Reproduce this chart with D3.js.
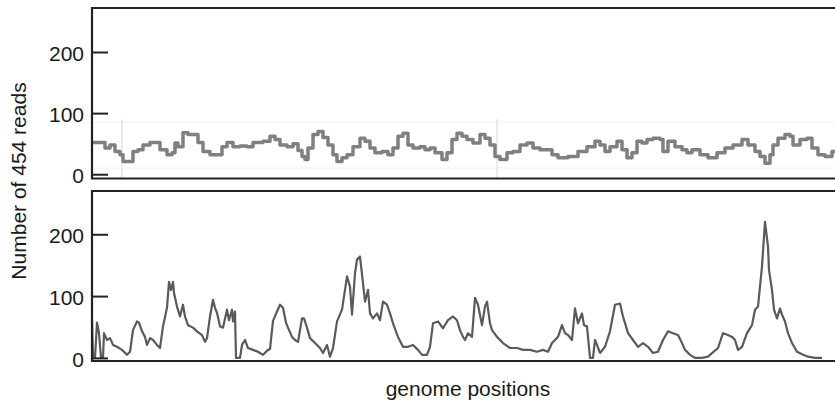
<!DOCTYPE html>
<html>
<head>
<meta charset="utf-8">
<script src="https://cdn.jsdelivr.net/npm/d3@7"></script>
<style>
  body { margin: 0; background: #fff; }
  svg { display: block; font-family: "Liberation Sans", Arial, Helvetica, sans-serif; }
</style>
</head>
<body>
<div id="chart"></div>
<script>
// Coverage of 454 reads along the genome (two libraries)
const yTicks = [0, 100, 200];
const yLabel = "Number of 454 reads";
const xLabel = "genome positions";

// top panel: step coverage
const topPositions = [0, 8, 13, 18, 23, 28, 31, 36, 41, 46, 51, 58, 63, 68, 75, 80, 83, 86, 91, 96, 101, 106, 111, 118, 125, 130, 135, 141, 148, 155, 161, 171, 178, 183, 188, 195, 201, 206, 210, 213, 216, 221, 226, 231, 236, 241, 245, 250, 255, 261, 268, 273, 278, 283, 290, 296, 301, 306, 311, 316, 321, 328, 333, 338, 343, 350, 355, 360, 365, 370, 375, 381, 388, 393, 398, 403, 408, 415, 421, 428, 435, 441, 448, 453, 460, 466, 476, 486, 495, 503, 508, 513, 518, 525, 530, 535, 540, 545, 550, 555, 561, 568, 571, 576, 583, 590, 595, 600, 608, 616, 625, 633, 641, 650, 656, 663, 668, 673, 678, 681, 686, 693, 698, 701, 708, 715, 720, 726, 733, 740, 743];
const topReads = [52, 52, 43, 48, 37, 32, 21, 21, 37, 40, 48, 52, 52, 40, 32, 35, 51, 45, 68, 65, 65, 52, 37, 32, 32, 45, 52, 45, 46, 45, 52, 54, 62, 57, 48, 45, 50, 39, 29, 24, 43, 65, 70, 60, 48, 32, 21, 27, 32, 45, 59, 54, 43, 35, 37, 32, 43, 62, 67, 48, 43, 45, 40, 43, 35, 24, 35, 57, 67, 62, 57, 51, 65, 59, 48, 29, 24, 35, 37, 48, 51, 43, 40, 40, 32, 27, 29, 37, 45, 54, 48, 37, 45, 54, 40, 27, 35, 54, 51, 57, 59, 57, 37, 54, 45, 40, 35, 40, 32, 27, 35, 43, 48, 57, 48, 37, 29, 18, 32, 48, 59, 65, 62, 48, 57, 59, 43, 32, 29, 37, 37];
// faint vertical marks seen in the top panel
const topMarks = [30, 405];

// bottom panel: coverage
const bottomPositions = [0, 1, 3, 5, 7, 9, 11, 12, 15, 18, 21, 25, 30, 35, 38, 41, 45, 47, 50, 53, 55, 58, 61, 65, 68, 71, 75, 77, 79, 81, 82, 85, 88, 91, 93, 96, 101, 105, 110, 113, 115, 118, 121, 123, 125, 128, 131, 135, 137, 140, 141, 143, 144, 145, 148, 150, 153, 156, 161, 166, 171, 176, 178, 181, 185, 188, 191, 194, 196, 200, 203, 206, 210, 212, 215, 218, 223, 228, 231, 235, 238, 241, 245, 250, 253, 255, 258, 260, 263, 265, 268, 271, 273, 276, 278, 281, 285, 288, 291, 295, 298, 301, 306, 311, 316, 321, 326, 330, 335, 338, 341, 346, 351, 356, 361, 365, 368, 371, 373, 376, 380, 383, 386, 390, 393, 395, 398, 400, 405, 411, 418, 425, 431, 438, 445, 451, 456, 460, 466, 470, 473, 476, 480, 483, 486, 490, 492, 495, 498, 501, 503, 505, 508, 513, 518, 523, 528, 531, 534, 536, 541, 546, 551, 556, 561, 566, 571, 576, 581, 586, 590, 593, 598, 603, 610, 616, 626, 631, 636, 640, 643, 646, 650, 655, 660, 663, 666, 670, 673, 676, 677, 680, 682, 685, 688, 690, 693, 696, 700, 705, 710, 716, 723, 730, 735, 743];
const bottomReads = [61, 0, 0, 57, 40, 0, 0, 40, 29, 32, 21, 18, 13, 5, 10, 45, 59, 57, 43, 34, 21, 32, 29, 21, 16, 51, 81, 123, 110, 123, 105, 83, 67, 86, 67, 53, 49, 43, 37, 26, 32, 67, 94, 81, 73, 51, 49, 78, 61, 78, 59, 75, 0, 0, 0, 21, 29, 16, 13, 10, 5, 13, 14, 60, 75, 86, 81, 57, 49, 34, 29, 26, 64, 64, 49, 32, 24, 16, 8, 21, 2, 16, 59, 78, 110, 132, 115, 70, 137, 159, 164, 121, 91, 110, 72, 64, 72, 61, 91, 86, 72, 56, 34, 18, 18, 21, 13, 5, 5, 18, 56, 59, 48, 61, 67, 61, 45, 34, 29, 40, 34, 97, 86, 53, 83, 91, 56, 45, 34, 24, 16, 16, 13, 13, 10, 13, 10, 24, 34, 53, 40, 37, 29, 80, 56, 72, 53, 51, 0, 0, 29, 21, 8, 18, 43, 86, 88, 67, 51, 40, 29, 18, 24, 18, 8, 10, 29, 43, 40, 37, 24, 13, 5, 0, 0, 2, 16, 40, 37, 34, 29, 13, 18, 40, 53, 78, 83, 148, 220, 180, 142, 110, 78, 64, 80, 70, 59, 40, 24, 10, 6, 2, 0, 0];

const width = 835, height = 402;
const margin = {left: 92, right: 0};
const genomeLength = 743;

let svg = d3.select("#chart")
    .append("svg")
    .attr("width", width)
    .attr("height", height);

let x = d3.scaleLinear()
    .domain([0, genomeLength])
    .range([margin.left, width - margin.right]);

const panels = [
    {top: 8, bottom: 178.5, domain: [-7, 272], pos: topPositions, reads: topReads, step: true},
    {top: 191, bottom: 361, domain: [-5, 270], pos: bottomPositions, reads: bottomReads, step: false}
];

panels.forEach(function(p) {
    let y = d3.scaleLinear().domain(p.domain).range([p.bottom, p.top]);
    let g = svg.append("g");

    if (p.step) {
        // faint background guides
        [85, 10].forEach(function(v) {
            g.append("line")
                .attr("x1", x(0)).attr("x2", x(genomeLength))
                .attr("y1", y(v)).attr("y2", y(v))
                .attr("stroke", "#f3f3f3")
                .attr("stroke-width", 1.2);
        });
        g.selectAll(".mark")
            .data(topMarks)
            .enter()
            .append("line")
            .attr("x1", function(d) { return x(d); })
            .attr("x2", function(d) { return x(d); })
            .attr("y1", y(90))
            .attr("y2", p.bottom)
            .attr("stroke", "#ebebeb")
            .attr("stroke-width", 2);
    }

    let line = d3.line()
        .x(function(d) { return x(d[0]); })
        .y(function(d) { return y(d[1]); })
        .curve(p.step ? d3.curveStepAfter : d3.curveLinear);

    g.append("path")
        .datum(d3.zip(p.pos, p.reads))
        .attr("d", line)
        .attr("fill", "none")
        .attr("stroke", p.step ? "#808080" : "#5a5a5a")
        .attr("stroke-width", p.step ? 3.5 : 2.2)
        .attr("stroke-linejoin", "round");

    // frame: top, left and bottom edges
    g.append("path")
        .attr("d", `M${x(genomeLength)},${p.top}H${x(0)}V${p.bottom}H${x(genomeLength)}`)
        .attr("fill", "none")
        .attr("stroke", "#222")
        .attr("stroke-width", 2.2);

    let axis = g.append("g")
        .attr("transform", `translate(${x(0)}, 0)`)
        .call(d3.axisLeft(y).tickValues(yTicks).tickSizeInner(-16).tickSizeOuter(0).tickPadding(8));
    axis.select(".domain").remove();
    axis.selectAll(".tick line").attr("stroke", "#222").attr("stroke-width", 2);
    axis.selectAll(".tick text")
        .attr("fill", "#1a1a1a")
        .style("font-size", "21px")
        .attr("dy", "0.4em");
});

// axis titles
svg.append("text")
    .attr("transform", `translate(26, 181) rotate(-90)`)
    .style("text-anchor", "middle")
    .style("font-size", "21px")
    .attr("fill", "#1a1a1a")
    .text(yLabel);

svg.append("text")
    .attr("x", 468)
    .attr("y", 396)
    .style("text-anchor", "middle")
    .style("font-size", "21px")
    .attr("fill", "#1a1a1a")
    .text(xLabel);
</script>
</body>
</html>
